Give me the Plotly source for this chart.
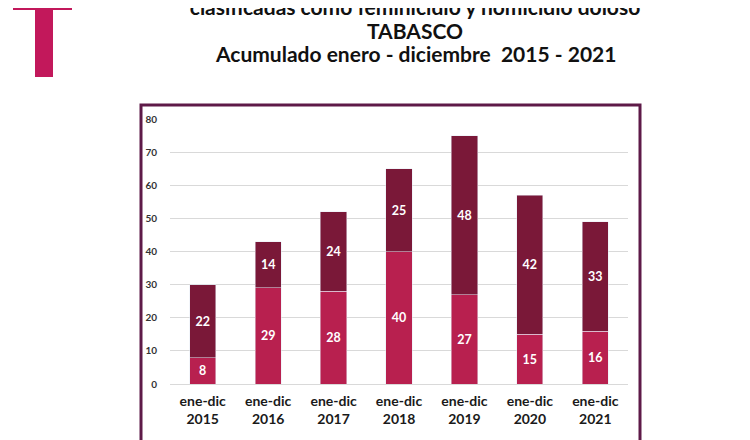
import plotly.graph_objects as go

W, H = 750, 440
OFF = 8  # the page puts the plot 8 px in from the top-left corner

CATEGORIES = ["ene-dic<br>2015", "ene-dic<br>2016", "ene-dic<br>2017", "ene-dic<br>2018",
              "ene-dic<br>2019", "ene-dic<br>2020", "ene-dic<br>2021"]
FEMINICIDIO = [8, 29, 28, 40, 27, 15, 16]
HOMICIDIO = [22, 14, 24, 25, 48, 42, 33]
Y_TICKS = [0, 10, 20, 30, 40, 50, 60, 70, 80]

PINK = "#b8204f"
MAROON = "#7a1838"
BORDER = "#5e1a48"
FONT = "Lato, 'Open Sans', sans-serif"
TITLE_FONT = dict(size=21, color="#111111", family=FONT, weight="bold")


def px(x):
    return (x - OFF) / W


def py(y):
    return 1 - (y - OFF) / H


fig = go.Figure()
fig.add_trace(go.Bar(
    x=CATEGORIES, y=FEMINICIDIO, name="Feminicidio", marker_color=PINK,
    text=FEMINICIDIO, textposition="inside", insidetextanchor="middle",
    textfont=dict(color="white", size=12.5, family=FONT, weight="bold"),
))
fig.add_trace(go.Bar(
    x=CATEGORIES, y=HOMICIDIO, name="Homicidio doloso", marker_color=MAROON,
    text=HOMICIDIO, textposition="inside", insidetextanchor="middle",
    textfont=dict(color="white", size=12.5, family=FONT, weight="bold"),
))

fig.update_layout(
    width=W, height=H,
    barmode="stack", bargap=0.6,
    showlegend=False,
    paper_bgcolor="white", plot_bgcolor="white",
    margin=dict(l=0, r=0, t=0, b=0, autoexpand=False),
    font=dict(family=FONT, color="#333333"),
    # first title line is cut by the top edge, as in the source slide
    title=dict(text="clasificadas como feminicidio y homicidio doloso",
               x=px(415), xanchor="center", xref="container",
               y=1, yanchor="middle", yref="container",
               font=TITLE_FONT, automargin=False),
    xaxis=dict(domain=[px(170), px(628)], showline=False, ticks="", automargin=False,
               tickfont=dict(size=14, color="#1a1a1a", weight="bold"),
               ticklabelstandoff=7),
    yaxis=dict(domain=[py(384), py(119)], range=[0, 80], tickvals=Y_TICKS, automargin=False,
               showgrid=True, gridcolor="#d9d9d9", gridwidth=1,
               zeroline=True, zerolinecolor="#d9d9d9", zerolinewidth=1,
               tickfont=dict(size=10, color="#333333", weight="bold"),
               ticklabelstandoff=12),
)

# chart frame
fig.add_shape(type="rect", xref="paper", yref="paper",
              x0=px(141), x1=px(640), y0=py(480), y1=py(105),
              line=dict(color=BORDER, width=3), layer="above")

# cross symbol at top-left
fig.add_shape(type="rect", xref="paper", yref="paper",
              x0=px(13), x1=px(72), y0=py(10), y1=py(-5),
              line=dict(width=0), fillcolor="#c2185b")
fig.add_shape(type="rect", xref="paper", yref="paper",
              x0=px(35), x1=px(53), y0=py(77), y1=py(0),
              line=dict(width=0), fillcolor="#c2185b")

for txt, y in [("TABASCO", 31), ("Acumulado enero - diciembre  2015 - 2021", 54)]:
    fig.add_annotation(text=txt, xref="paper", yref="paper", x=px(415), y=py(y),
                       xanchor="center", yanchor="middle", showarrow=False,
                       font=TITLE_FONT)

fig.write_html("out.html")
